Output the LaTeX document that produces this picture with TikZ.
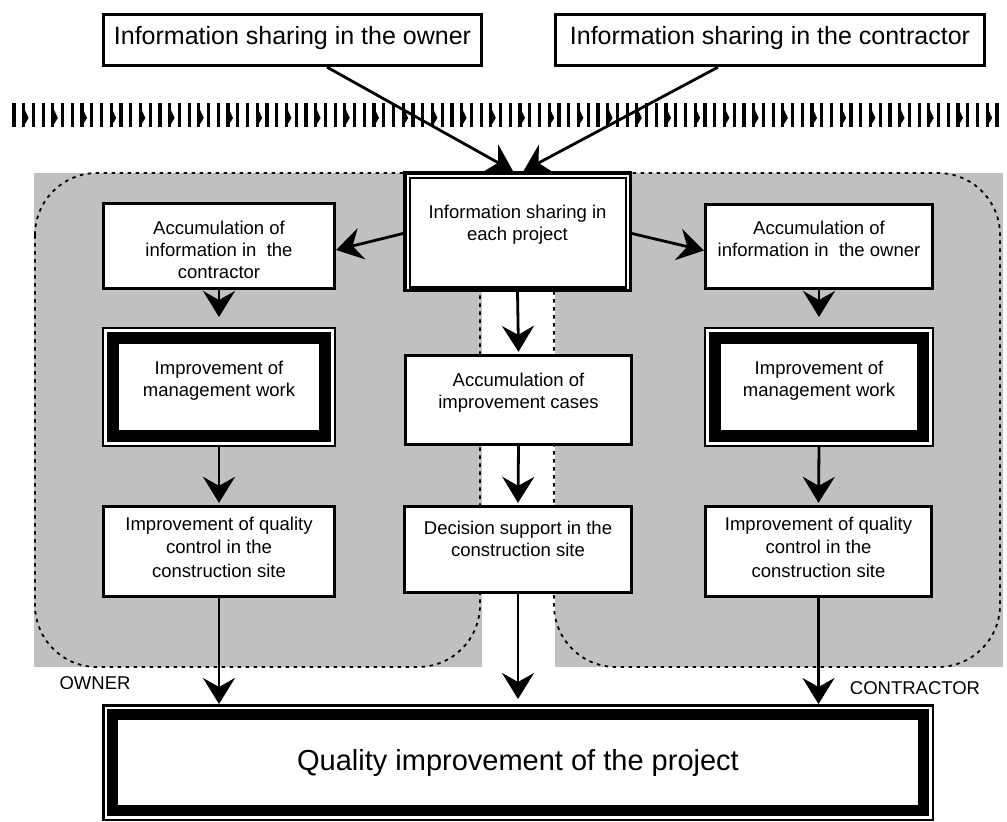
\documentclass[tikz,border=0pt]{standalone}
\usepackage{fontspec}
\setmainfont{Liberation Sans}
\usetikzlibrary{arrows.meta,calc}
\definecolor{regiongray}{RGB}{192,192,192}
\begin{document}
\begin{tikzpicture}[x=1pt,y=-1pt,
  box/.style={draw, line width=2.8pt, fill=white, inner sep=0pt},
  txt/.style={align=center, font=\fontsize{18.5}{22}\selectfont, inner sep=0pt},
  toptxt/.style={align=center, font=\fontsize{25}{30}\selectfont, inner sep=0pt},
  arr/.style={line width=2.8pt, -{Stealth[length=26pt,width=32pt,inset=9pt]}},
  dashb/.style={line width=1.8pt, dash pattern=on 3.5pt off 4.5pt}]
\useasboundingbox (0,0) rectangle (1007,822);

% grey regions
\fill[regiongray] (34,173) rectangle (482,667);
\fill[regiongray] (555,173) rectangle (1003,667);
\draw[dashb, rounded corners=62pt] (35,173) rectangle (480,667);
\draw[dashb, rounded corners=62pt] (554,173) rectangle (1000,667);

% decorative band
\foreach \k in {0,...,33}{
  \pgfmathsetmacro\bx{12.3+29.2*\k}
  \fill (\bx,103) rectangle ++(3.2,24);
  \fill (\bx+9.7,103) rectangle ++(3.2,24);
  \fill (\bx+19.5,103) rectangle ++(3.2,24);
  \fill (\bx+12.6,110) -- (\bx+16.3,118) -- (\bx+12.6,124) -- cycle;
}

% top boxes
\node[box, minimum width=378.5pt, minimum height=51.5pt] (tl) at (292.5,40) {};
\node[toptxt] (tlt) at (292.5,38) {Information sharing in the owner};
\node[box, minimum width=429.5pt, minimum height=51.5pt] (tr) at (770,40) {};
\node[toptxt] (trt) at (770,38) {Information sharing in the contractor};

% centre box (double frame)
\node[box, line width=3.5pt, minimum width=225.5pt, minimum height=117.5pt] (cb) at (517.5,231.5) {};
\draw[line width=2.5pt] ([shift={(7pt,-7pt)}]cb.north west) rectangle ([shift={(-6pt,4.5pt)}]cb.south east);
\node[txt] (cbt) at (517.5,225) {Information sharing in\\each project};

% accumulation boxes
\node[box, minimum width=231.5pt, minimum height=85.5pt] (acl) at (219,246) {};
\node[txt] (aclt) at (219,250) {Accumulation of\\information in~ the\\contractor};
\node[box, minimum width=227.5pt, minimum height=84.5pt] (acr) at (819,246.5) {};
\node[txt] (acrt) at (819,239) {Accumulation of\\information in~ the owner};

% management boxes
\node[box, line width=2pt, minimum width=232pt, minimum height=118pt] (mgl) at (219,387) {};
\draw[line width=11.5pt] ([shift={(11pt,-11pt)}]mgl.north west) rectangle ([shift={(-11pt,11pt)}]mgl.south east);
\node[txt] (mglt) at (219,381) {Improvement of\\management work};
\node[box, line width=2pt, minimum width=228pt, minimum height=118pt] (mgr) at (819,387) {};
\draw[line width=11.5pt] ([shift={(11pt,-11pt)}]mgr.north west) rectangle ([shift={(-11pt,11pt)}]mgr.south east);
\node[txt] (mgrt) at (819,381) {Improvement of\\management work};

% middle column
\node[box, minimum width=226.5pt, minimum height=89.5pt] (cases) at (518.5,400) {};
\node[txt] (casest) at (518.5,393) {Accumulation of\\improvement cases};
\node[box, minimum width=227.5pt, minimum height=86.5pt] (dec) at (518,549.5) {};
\node[txt] (dect) at (518,539) {Decision support in the\\construction site};

% quality control boxes
\node[box, minimum width=231.5pt, minimum height=90.5pt] (qcl) at (219,551.5) {};
\node[txt, font=\fontsize{18.5}{23.5}\selectfont] (qclt) at (219,547) {Improvement of quality\\control in the\\construction site};
\node[box, minimum width=226.5pt, minimum height=90.5pt] (qcr) at (818.5,551.5) {};
\node[txt, font=\fontsize{18.5}{23.5}\selectfont] (qcrt) at (818.5,547) {Improvement of quality\\control in the\\construction site};

% big result box
\node[box, line width=2.5pt, minimum width=829.5pt, minimum height=114.5pt, font=\fontsize{29}{34}\selectfont] (big) at (518,762.5) {Quality improvement of the project};
\draw[line width=11pt] ([shift={(10.5pt,-10.5pt)}]big.north west) rectangle ([shift={(-10.5pt,10.5pt)}]big.south east);

% region labels
\node[txt] (owner) at (95,683) {OWNER};
\node[txt] (contractor) at (915,688) {CONTRACTOR};

% connectors
\draw[arr] ([xshift=34.5pt]tl.south) -- ([xshift=-4.5pt]cb.north);
\draw[arr] ([xshift=-52pt]tr.south) -- ([xshift=6pt]cb.north);
\draw[arr] ([yshift=-2pt]cb.west) -- ([yshift=-4pt]acl.east);
\draw[arr] ([yshift=-2pt]cb.east) -- ([yshift=-4pt]acr.west);

\draw[arr] (acl.south) -- ([yshift=10pt]mgl.north);
\draw[arr] (mgl.south) -- ([yshift=2pt]qcl.north);
\draw[arr] (qcl.south) -- (big.north -| qcl.south);

\draw[arr] (cb.south) -- ([yshift=2pt]cases.north);
\draw[arr] (cases.south) -- ([yshift=2pt]dec.north);
\draw[arr] (dec.south) -- ([yshift=5pt]big.north -| dec.south);

\draw[arr] (acr.south) -- ([yshift=10pt]mgr.north);
\draw[arr] (mgr.south) -- ([yshift=2pt]qcr.north);
\draw[arr] (qcr.south) -- (big.north -| qcr.south);
\end{tikzpicture}
\end{document}
